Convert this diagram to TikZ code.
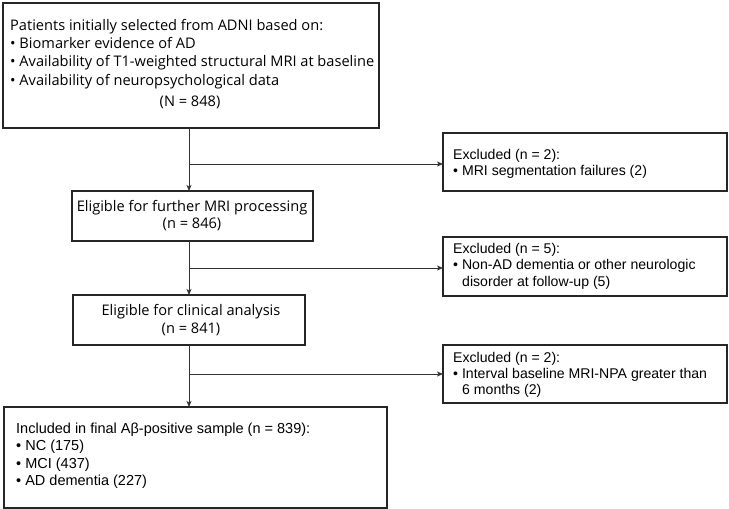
\documentclass[tikz,border=0pt]{standalone}
\usepackage{fontspec}
\setmainfont{Open Sans}
\newfontfamily\arialf{Liberation Sans}
\usetikzlibrary{arrows.meta}
\begin{document}
\begin{tikzpicture}[x=1pt,y=-1pt,
  box/.style={draw=black!85, line width=1.2pt, inner sep=0pt, outer sep=0pt, anchor=north west},
  os/.style={font=\fontsize{14.6}{17}\selectfont, inner sep=0pt, anchor=base west},
  osc/.style={font=\fontsize{14.6}{17}\selectfont, inner sep=0pt, anchor=base},
  ar/.style={font=\arialf\fontsize{14.1}{16}\selectfont, inner sep=0pt, anchor=base west},
  arb/.style={font=\arialf\fontsize{14.5}{17}\selectfont, inner sep=0pt, anchor=base west},
  conn/.style={draw=black!80, line width=0.8pt},
  arr/.style={conn, -{Stealth[length=6pt,width=5pt,inset=1.5pt]}}]
\useasboundingbox (0,0) rectangle (729,509);
% boxes
\node[box, minimum width=376pt, minimum height=125pt] (top) at (3,3) {};
\node[box, minimum width=241pt, minimum height=50pt] (mri) at (72,191) {};
\node[box, minimum width=232pt, minimum height=50pt] (clin) at (73,295) {};
\node[box, minimum width=383pt, minimum height=101pt] (fin) at (4,407) {};
\node[box, minimum width=284pt, minimum height=58pt] (ex1) at (443,133) {};
\node[box, minimum width=284pt, minimum height=59pt] (ex2) at (443,237) {};
\node[box, minimum width=284pt, minimum height=58pt] (ex3) at (443,345) {};
% texts top
\node[os] (t1) at (10,30) {Patients initially selected from ADNI based on:};
\node[os] (t2) at (10,48.3) {• Biomarker evidence of AD};
\node[os] (t3) at (10,66.7) {• Availability of T1-weighted structural MRI at baseline};
\node[os] (t4) at (10,85) {• Availability of neuropsychological data};
\node[osc] (t5) at (190,106) {(N = 848)};
\node[osc] (m1) at (192,211.7) {Eligible for further MRI processing};
\node[osc] (m2) at (192,228.7) {(n = 846)};
\node[osc] (c1) at (191,315.5) {Eligible for clinical analysis};
\node[osc] (c2) at (191,333) {(n = 841)};
% final
\node[arb] (f1) at (16,433.3) {Included in final Aβ-positive sample (n = 839):};
\node[arb] (f2) at (16,450.8) {• NC (175)};
\node[arb] (f3) at (16,468.3) {• MCI (437)};
\node[arb] (f4) at (16,485.8) {• AD dementia (227)};
% excluded
\node[ar] (e11) at (453,159) {Excluded (n = 2):};
\node[ar] (e12) at (453,175.3) {• MRI segmentation failures (2)};
\node[ar] (e21) at (453,253.5) {Excluded (n = 5):};
\node[ar] (e22) at (453,269.8) {• Non-AD dementia or other neurologic};
\node[ar] (e23) at (462,286) {disorder at follow-up (5)};
\node[ar] (e31) at (453,362.5) {Excluded (n = 2):};
\node[ar] (e32) at (453,378.5) {• Interval baseline MRI-NPA greater than};
\node[ar] (e33) at (462,394.5) {6 months (2)};
% connectors
\coordinate (b1) at (189,164);
\coordinate (b2) at (189,268);
\coordinate (b3) at (189,374);
\draw[conn] (top.south -| b1) -- (b1);
\draw[arr] (b1) -- (mri.north -| b1);
\draw[arr] (b1) -- (ex1.west |- b1);
\draw[conn] (mri.south -| b2) -- (b2);
\draw[arr] (b2) -- (clin.north -| b2);
\draw[arr] (b2) -- (ex2.west |- b2);
\draw[conn] (clin.south -| b3) -- (b3);
\draw[arr] (b3) -- (fin.north -| b3);
\draw[arr] (b3) -- (ex3.west |- b3);
\end{tikzpicture}
\end{document}
